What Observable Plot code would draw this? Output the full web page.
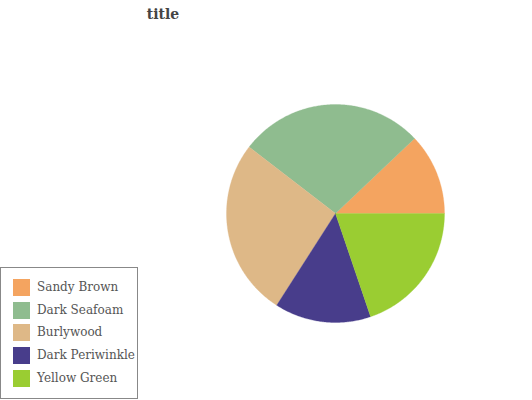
<!DOCTYPE html>
<html>
<head>
<meta charset="utf-8">
<script src="https://cdn.jsdelivr.net/npm/d3@7"></script>
<script src="https://cdn.jsdelivr.net/npm/@observablehq/plot@0.6"></script>
<style>
  html, body { margin: 0; padding: 0; background: #fff; }
  #wrap { position: relative; width: 532px; height: 400px; overflow: hidden; font-family: "DejaVu Serif", serif; }
  #title { position: absolute; left: 113px; top: 6px; width: 100px; text-align: center; font-size: 14px; font-weight: bold; color: #444; height: 29px; }
  #chart { position: absolute; left: 0; top: 35px; }
  #legend { position: absolute; left: 0; top: 267px; width: 136px; height: 130px; border: 1px solid #888; box-sizing: content-box; }
  .item { position: absolute; left: 12px; height: 17px; }
  .sw { position: absolute; left: 0; top: 0; width: 17px; height: 17px; }
  .lab { position: absolute; left: 24px; top: -1px; white-space: nowrap; font-size: 12px; color: #555; line-height: 18px; }
</style>
</head>
<body>
<div id="wrap">
  <div id="title">title</div>
  <div id="chart"></div>
  <div id="legend"></div>
</div>
<script>
const categories = ["Sandy Brown", "Dark Seafoam", "Burlywood", "Dark Periwinkle", "Yellow Green"];
const values = [11, 25, 24, 13, 18];
const colors = ["#F4A460", "#8FBC8F", "#DEB887", "#483D8B", "#9ACD32"];

// Slice outlines built from the data (start at 3 o'clock, counter-clockwise)
const total = d3.sum(values);
const points = [];
let start = 0;
categories.forEach((name, i) => {
  const span = values[i] / total * 2 * Math.PI;
  const end = start + span;
  points.push({name, x: 0, y: 0});
  const n = Math.max(2, Math.ceil(span / 0.01));
  for (let k = 0; k <= n; k++) {
    const a = start + span * k / n;
    points.push({name, x: Math.cos(a), y: Math.sin(a)});
  }
  points.push({name, x: 0, y: 0});
  start = end;
});

const W = 532, H = 365;
const chart = Plot.plot({
  width: W,
  height: H,
  marginLeft: 226,
  marginRight: 88,
  marginTop: 69,
  marginBottom: 78,
  x: {domain: [-1, 1], axis: null},
  y: {domain: [-1, 1], axis: null},
  color: {domain: categories, range: colors},
  marks: [
    Plot.line(points, {x: "x", y: "y", z: "name", fill: "name", stroke: "name", strokeWidth: 0.3, curve: "linear"})
  ]
});
document.getElementById("chart").appendChild(chart);

const legend = document.getElementById("legend");
categories.forEach((name, i) => {
  const it = document.createElement("div");
  it.className = "item";
  it.style.top = (11 + i * 22.7) + "px";
  const sw = document.createElement("div");
  sw.className = "sw";
  sw.style.background = colors[i];
  const lab = document.createElement("div");
  lab.className = "lab";
  lab.textContent = name;
  it.appendChild(sw);
  it.appendChild(lab);
  legend.appendChild(it);
});
</script>
</body>
</html>
